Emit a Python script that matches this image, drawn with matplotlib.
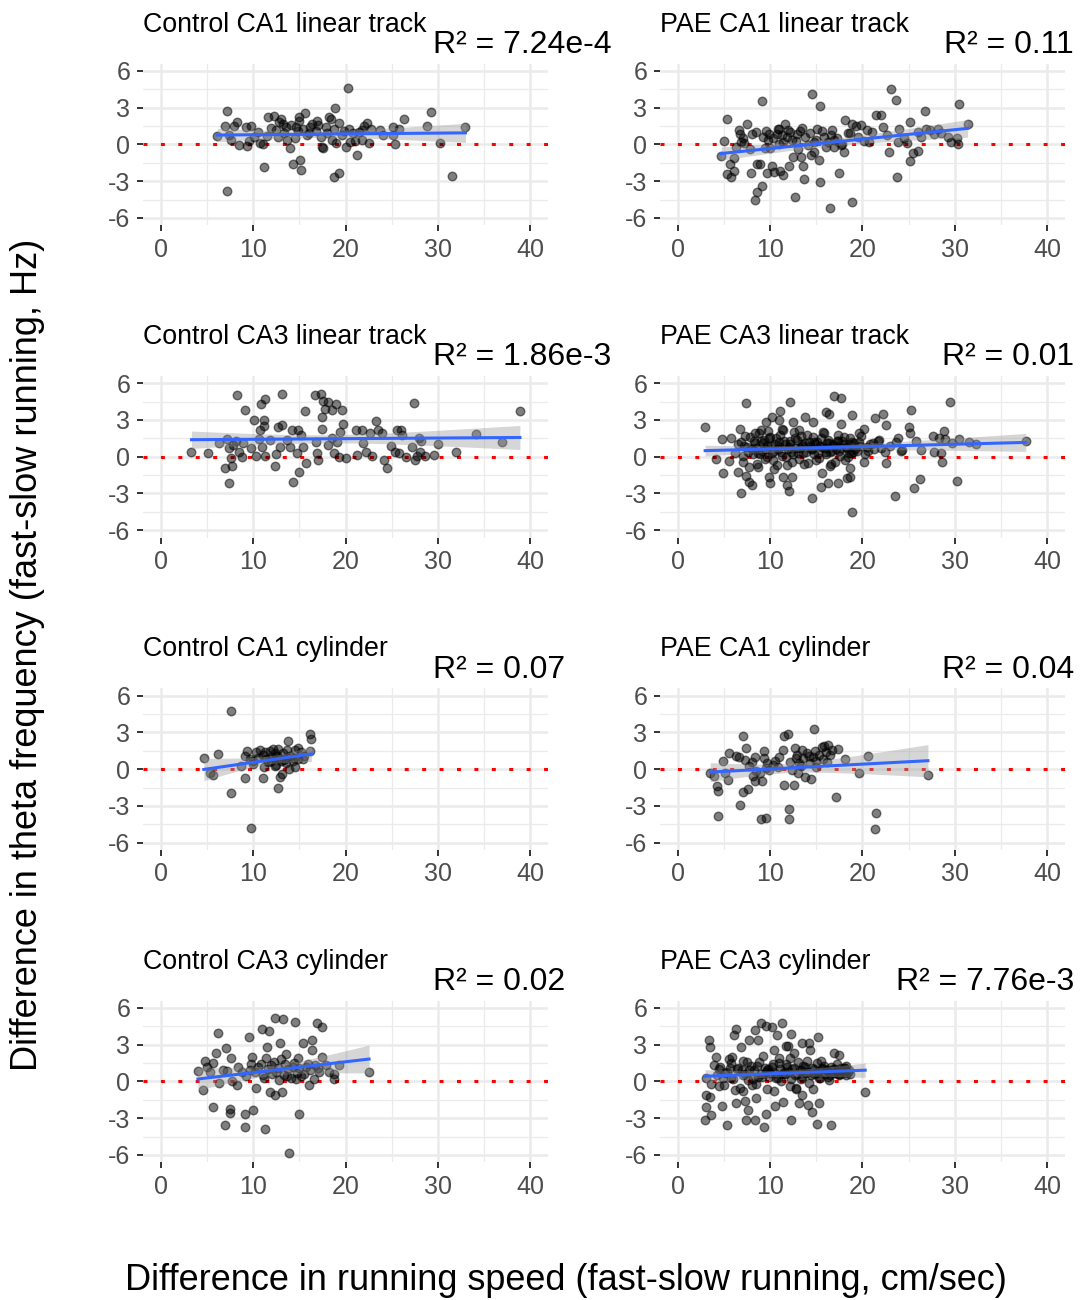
import numpy as np
import matplotlib
matplotlib.use("Agg")
import matplotlib.pyplot as plt

plt.rcParams['font.family'] = ['Liberation Sans', 'DejaVu Sans']
plt.rcParams['axes.unicode_minus'] = False

# panel titles and R^2 labels (left column, right column, row by row)
titles = ["Control CA1 linear track", "PAE CA1 linear track",
          "Control CA3 linear track", "PAE CA3 linear track",
          "Control CA1 cylinder", "PAE CA1 cylinder",
          "Control CA3 cylinder", "PAE CA3 cylinder"]
r2_labels = ["7.24e-4", "0.11", "1.86e-3", "0.01", "0.07", "0.04", "0.02", "7.76e-3"]

x_ticks = [0, 10, 20, 30, 40]
y_ticks = [-6, -3, 0, 3, 6]

# Control CA1 linear track
ctrl_ca1_lt_x = [6.1, 7.2, 7.2, 6.9, 7.4, 7.6, 7.9, 8.2, 8.5, 9.2, 9.3, 9.7, 10.1, 10.7, 11.0, 11.2,
                 11.6, 11.95, 12.2, 12.7, 13.0, 13.2, 13.5, 13.7, 14.0, 14.1, 14.3, 14.6, 14.9, 15.1,
                 15.2, 15.4, 15.6, 15.8, 16.1, 16.4, 16.9, 17.3, 17.4, 17.6, 17.9, 18.2, 18.4, 18.8,
                 18.85, 19.0, 19.3, 19.3, 19.6, 20.0, 20.25, 20.4, 20.5, 21.2, 21.5, 21.8, 22.0, 22.3,
                 22.5, 23.7, 24.1, 25.1, 25.1, 25.4, 25.8, 26.3, 28.8, 29.3, 30.2, 31.5, 33.0,
                 9.5, 10.5, 12.5, 13.3, 14.5, 15.0, 16.0, 16.8, 17.0, 18.0, 18.8, 19.8, 20.8, 21.8,
                 22.8, 11.5, 12.8, 14.8, 18.5, 21.0]
ctrl_ca1_lt_y = [0.68, 2.74, -3.79, 1.5, 0.75, 0.35, 1.5, 1.8, -0.05, 1.44, -0.1, 1.5, 0.6, 0.13, 0.0, -1.87,
                 2.2, 1.35, 2.3, 0.62, 2.06, 1.7, 1.44, 0.35, -0.27, 1.57, -1.63, 1.44, 2.2, -1.27,
                 -2.09, 1.3, 2.57, 0.76, 1.44, 1.7, 1.92, 0.62, -0.19, -0.27, 1.44, 2.2, 2.06, -2.68,
                 2.98, 0.13, -2.36, 1.76, 0.76, -0.24, 4.63, 1.3, 0.16, -0.87, 1.03, 0.4, 1.49, 1.76,
                 0.08, 1.22, 0.81, 1.44, 0.76, 0.03, 1.3, 2.06, 1.49, 2.66, 0.13, -2.55, 1.44,
                 0.3, 1.0, 1.2, 0.9, 0.5, 1.9, 0.9, 1.1, 1.6, 0.9, 1.3, 1.1, 0.9, 1.2,
                 1.3, 0.7, 1.8, 1.1, 0.4, 0.3]

# PAE CA1 linear track
pae_ca1_lt_x = [4.7, 5.0, 5.3, 5.3, 5.6, 5.7, 6.05, 6.1, 6.3, 6.6, 6.7, 6.85, 7.2, 7.45, 7.9, 8.0, 8.3,
                8.55, 8.55, 8.9, 9.1, 9.1, 9.2, 9.4, 9.7, 9.75, 9.9, 10.2, 10.45, 10.7, 11.0, 11.1,
                11.35, 11.4, 11.6, 11.9, 12.0, 12.4, 12.5, 12.7, 12.95, 13.3, 13.5, 13.6, 13.7, 14.05,
                14.4, 14.5, 14.8, 15.1, 15.3, 15.4, 15.4, 15.8, 16.1, 16.5, 16.75, 16.9, 17.5, 17.7,
                18.1, 18.4, 18.9, 18.9, 19.3, 19.8, 20.5, 20.7, 21.5, 22.0, 22.2, 22.7, 22.9, 23.1,
                23.6, 23.7, 23.8, 24.0, 24.8, 25.2, 25.2, 25.5, 26.05, 26.3, 26.8, 26.9, 27.75, 28.2,
                29.3, 29.55, 30.2, 30.4, 30.5, 31.4,
                8.5, 9.5, 10.3, 10.8, 11.3, 11.8, 12.2, 12.8, 13.2, 13.8, 14.3, 15.0, 15.6, 16.3,
                16.6, 17.2, 17.8, 18.6, 19.5, 20.2, 21.0, 7.0, 7.8, 10.0, 11.0, 13.0, 14.8, 16.9,
                18.0, 24.5, 26.0, 27.3, 28.5]
pae_ca1_lt_y = [-0.95, 0.3, 2.06, -2.41, -1.63, -2.63, -2.14, -1.14, -0.19, 1.22, 0.89, 0.22, 0.08, 1.7,
                -2.3, 0.89, -4.53, -3.9, -1.63, -1.63, -3.36, 3.52, 0.62, -0.33, -2.3, 0.35, 0.89, -1.76,
                -2.22, 0.89, 1.3, -2.14, 0.22, -2.49, 1.7, 1.22, -1.73, 0.35, -1.0, -4.25, 0.89, -1.0,
                1.36, -1.73, -2.85, -0.05, -0.87, 4.15, -0.6, 1.3, -1.27, -3.04, 3.14, 0.62, -0.19,
                -5.2, 1.17, 0.35, -2.36, -0.05, 2.03, 0.95, -4.66, 1.7, 1.49, 1.57, 1.22, 0.22, 2.38,
                2.44, 1.44, 0.76, -0.6, 4.55, 3.66, -2.63, 0.22, 1.3, 0.08, 1.84, -1.36, -0.73, -0.51,
                0.62, 2.71, 1.3, 0.89, 1.3, 0.62, 0.22, 0.54, 0.03, 3.28, 1.7,
                1.0, 1.1, 0.5, 1.3, 0.8, 0.6, 1.0, 0.3, 1.1, 0.6, 0.9, 0.4, 1.1, 0.2,
                0.8, 0.5, 0.0, 0.9, 0.6, 0.3, 1.0, 0.5, -0.4, -0.3, 0.0, -0.4, 0.2, -0.2,
                -0.6, 0.5, 1.0, 1.2, 0.9]

# Control CA3 linear track
ctrl_ca3_lt_x = [3.3, 5.1, 6.3, 6.9, 7.1, 7.4, 7.4, 7.6, 7.7, 7.8, 8.1, 8.2, 8.5, 8.8, 8.9, 9.05, 9.7,
                 10.1, 10.3, 10.6, 10.7, 10.85, 10.95, 11.15, 11.2, 11.3, 11.3, 11.8, 12.3, 12.5, 12.7,
                 12.85, 13.1, 13.1, 13.7, 14.0, 14.2, 14.3, 14.75, 14.8, 14.9, 15.2, 15.35, 15.6, 15.7,
                 16.7, 16.8, 16.9, 17.0, 17.3, 17.4, 17.4, 17.6, 17.8, 18.1, 18.1, 18.5, 18.5, 18.7,
                 19.0, 19.1, 19.3, 19.4, 19.6, 19.7, 20.0, 21.1, 21.2, 21.8, 21.9, 22.2, 22.7, 22.9,
                 23.3, 23.55, 23.9, 24.2, 24.5, 24.9, 25.4, 25.6, 25.8, 26.0, 26.15, 26.5, 27.2, 27.4,
                 27.5, 27.7, 27.95, 28.1, 28.2, 28.6, 29.6, 30.0, 32.0, 34.1, 37.0, 38.9]
ctrl_ca3_lt_y = [0.41, 0.27, 1.14, -0.95, 1.44, -2.17, 0.68, -0.08, -0.73, 0.95, 1.3, 5.07, 0.41, -0.05,
                 1.14, 3.85, 0.68, 2.98, 0.08, 1.41, 2.22, 4.34, 0.76, 3.04, 2.49, 4.69, 0.05, 1.36,
                 -0.73, 0.19, 2.44, 0.76, 5.15, 2.57, 1.36, 0.81, 2.17, -2.03, 0.27, 2.17, -1.27, 1.76,
                 0.81, 3.74, -0.49, 5.01, 1.22, 0.27, -0.27, 5.09, 3.25, 2.3, 4.55, 3.93, 4.5, 0.95,
                 3.85, 1.57, 0.33, 4.28, 1.22, 0.0, 2.03, 3.85, 2.66, -0.08, 2.17, 0.14, 2.17, 1.14,
                 0.41, 1.9, 0.05, 2.93, 2.17, 1.95, -0.27, -0.95, 0.87, 0.41, 2.17, 0.27, 2.17, 1.76,
                 0.0, 0.81, 4.39, -0.27, 0.05, 1.57, 0.41, 1.3, 0.05, 0.14, 1.03, 0.35, 1.82, 1.17, 3.74]

# PAE CA3 linear track
pae_ca3_lt_x = [2.95, 4.1, 4.8, 4.9, 5.5, 5.8, 6.5, 6.7, 6.85, 7.4, 7.4, 7.7, 8.0, 8.65, 9.0, 9.5, 9.9,
                10.0, 10.2, 10.4, 10.9, 11.1, 11.3, 11.4, 11.8, 12.0, 12.2, 12.4, 12.5, 13.15, 13.8,
                14.5, 14.6, 15.5, 15.6, 16.0, 16.3, 16.4, 16.5, 16.9, 17.4, 17.7, 17.7, 18.3, 18.6,
                18.6, 18.85, 18.9, 19.6, 20.2, 20.2, 21.4, 21.7, 22.2, 22.5, 22.5, 23.5, 23.8, 24.3,
                25.1, 25.2, 25.3, 25.6, 25.8, 26.2, 26.4, 27.6, 27.75, 28.3, 28.5, 28.6, 28.8, 29.0,
                29.5, 29.7, 30.2, 30.5, 31.6, 32.3, 37.7,
                6.2, 6.8, 7.1, 7.5, 7.8, 8.1, 8.3, 8.6, 8.8, 9.1, 9.3, 9.6, 9.8, 10.1, 10.3, 10.6,
                10.8, 11.1, 11.3, 11.6, 11.8, 12.1, 12.3, 12.6, 12.8, 13.1, 13.3, 13.6, 13.8, 14.1,
                14.3, 14.6, 14.8, 15.1, 15.3, 15.6, 15.8, 16.1, 16.3, 16.6, 16.8, 17.1, 17.3, 17.6,
                17.8, 18.1, 18.3, 18.6, 18.8, 19.1, 19.4, 19.8, 20.3, 20.8, 21.3, 21.8, 22.4, 23.0,
                23.6, 24.2,
                6.5, 7.0, 7.3, 7.7, 8.0, 8.4, 8.7, 9.0, 9.4, 9.7, 10.0, 10.4, 10.7, 11.0, 11.4, 11.7,
                12.0, 12.4, 12.7, 13.0, 13.4, 13.7, 14.0, 14.4, 14.7, 15.0, 15.4, 15.7, 16.0, 16.4,
                16.7, 17.0, 17.4, 17.7, 18.0, 18.4, 18.7, 19.0, 19.6, 20.5,
                7.2, 7.6, 8.2, 8.5, 8.9, 9.2, 9.5, 9.9, 10.2, 10.5, 10.9, 11.2, 11.5, 11.9, 12.2,
                12.5, 12.9, 13.2, 13.5, 13.9, 14.2, 14.5, 14.9, 15.2, 15.5, 15.9, 16.2, 16.5, 16.9,
                17.2, 17.5, 17.9, 18.2, 18.5, 18.9, 19.2, 19.7, 20.6, 21.1, 22.0]
pae_ca3_lt_y = [2.44, -0.22, 1.41, -1.36, -0.33, 1.57, -1.22, 2.3, -2.98, 4.39, -1.57, -2.03, -2.3,
                -0.87, 2.17, 2.85, -1.63, -2.11, 3.25, -1.03, 3.04, 3.74, 2.3, -1.63, -2.3, -2.76, 4.47,
                -1.63, 2.85, 2.17, 3.25, -3.39, 2.85, -2.44, -1.3, 3.66, -2.11, 3.52, -0.73, 4.93,
                -2.11, 4.8, 2.66, -1.76, -0.89, -1.68, -4.55, 3.44, 1.9, 2.3, -0.41, 3.2, 1.3, 3.47,
                -0.49, 2.57, -3.2, 1.57, 0.54, 2.44, 1.9, 3.85, -2.57, 1.3, -1.84, 0.54, 1.68, 0.41,
                1.49, 0.27, -0.41, 2.09, 1.41, 4.47, 1.14, -1.95, 1.41, 1.22, 1.03, 1.3,
                0.3, 1.2, -0.4, 0.8, 1.6, 0.2, 1.1, -0.6, 1.9, 0.5, 1.4, 0.0, 2.1, 0.9, -0.3, 1.5,
                0.6, 1.8, 0.1, 1.0, -0.7, 1.3, 0.4, 2.0, 0.7, -0.2, 1.7, 0.3, 1.1, -0.5,
                0.9, 1.6, 0.2, 1.2, -0.1, 0.8, 1.9, 0.4, 1.4, -0.6, 1.0, 0.6, 1.8, 0.1,
                1.3, -0.3, 0.7, 1.5, 0.3, 1.1, 0.5, 1.7, 0.2, 1.0, 0.6, 1.4, 0.4, 0.9,
                1.2, 0.5,
                1.0, 0.1, 1.7, -0.8, 0.6, 1.9, 0.3, 1.3, -0.2, 0.9, 1.6, 0.5, -0.7, 1.2, 2.2, 0.0,
                0.8, -0.4, 1.5, 0.3, 1.0, -0.6, 1.8, 0.6, 1.2, -0.3, 0.9, 2.0, 0.2, 1.1,
                0.5, -0.4, 1.3, 0.7, 1.6, 0.0, 1.0, 0.4, 1.2, 0.8,
                0.9, 0.4, 1.3, 0.7, 0.2, 1.1, 0.6, 1.5, 0.3, 1.0, 0.8, 0.4, 1.3, 0.6, 1.0,
                0.2, 1.4, 0.7, 0.9, 0.4, 1.2, 0.6, 1.0, 0.3, 1.5, 0.7, 1.1, 0.4, 0.9,
                1.3, 0.5, 1.0, 0.8, 0.3, 1.2, 0.6, 0.9, 0.5, 1.1, 0.7]

# Control CA1 cylinder
ctrl_ca1_cy_x = [4.64, 5.3, 5.65, 6.2, 7.55, 7.55, 8.7, 9.1, 9.1, 9.3, 9.8, 9.95, 10.3, 10.7, 11.0,
                 11.2, 11.4, 11.8, 11.9, 12.1, 12.4, 12.5, 12.7, 12.7, 12.9, 13.1, 13.3, 13.6, 13.7,
                 13.8, 13.9, 14.3, 14.5, 14.5, 14.8, 15.2, 15.4, 16.1, 16.1, 16.3,
                 10.5, 11.0, 11.6, 12.0, 12.3, 12.8, 13.2, 13.5, 14.0, 14.4, 9.6, 10.0, 11.3, 12.6,
                 13.0, 14.8, 15.5]
ctrl_ca1_cy_y = [0.95, -0.3, -0.43, 1.25, 4.72, -1.92, 0.3, 1.06, -0.73, 1.46, -4.77, 0.65, 1.38, 1.6,
                 -0.73, 0.16, 0.84, 1.46, 0.65, 1.68, 1.33, 0.38, -1.57, 1.65, -0.65, -0.35, 0.79, 1.0,
                 1.54, 2.28, 0.03, 0.65, 1.6, 0.19, 1.73, 1.38, 0.84, 1.52, 2.9, 2.47,
                 0.9, 1.2, 0.6, 1.0, 0.3, 0.9, 1.3, 0.5, 1.1, 0.9, 0.8, 0.4, 1.4, 1.1,
                 0.7, 0.8, 1.1]

# PAE CA1 cylinder
pae_ca1_cy_x = [3.5, 3.96, 4.2, 4.3, 4.3, 4.9, 5.15, 5.4, 5.5, 6.3, 6.6, 6.7, 7.0, 7.1, 7.3, 7.4, 7.6,
                7.75, 8.1, 8.3, 8.4, 8.5, 8.9, 9.0, 9.1, 9.3, 9.3, 9.55, 9.7, 9.9, 10.3, 10.55, 11.35,
                11.5, 11.5, 11.9, 12.0, 12.0, 12.4, 12.6, 12.7, 12.8, 13.15, 13.5, 13.8, 14.2, 14.4,
                14.7, 14.95, 15.6, 15.8, 16.3, 16.5, 16.75, 17.1, 17.4, 18.1, 19.6, 20.65, 21.5, 21.4,
                27.1,
                12.2, 12.9, 13.3, 13.6, 14.0, 14.3, 14.6, 15.0, 15.3, 15.7, 16.0, 16.2, 13.0, 14.9,
                10.8, 11.0, 8.0, 9.5]
pae_ca1_cy_y = [-0.3, -0.57, -1.38, -1.79, -3.82, 0.65, -0.3, -0.84, 1.33, 1.11, 1.0, -2.93, 2.74,
                -1.87, 0.79, 1.73, -1.65, 0.24, -0.57, -0.98, 1.0, -0.16, -0.3, -4.04, -0.98, 1.46,
                0.92, -3.96, 0.51, -0.08, 0.38, 0.7, 1.6, 2.68, -1.3, 2.87, -3.28, -4.04, -0.03, -1.3,
                1.73, 0.92, 0.51, 1.54, -0.62, 1.06, -0.79, 3.28, 0.65, 1.82, 1.87, 2.0, 1.19, 1.6,
                -2.28, 1.68, 0.84, -0.3, 1.11, -3.55, -4.85, -0.43,
                0.6, 1.2, 0.3, 0.9, 1.3, 0.5, 1.0, 0.2, 1.2, 0.8, 1.4, 0.6, -0.3, 1.5,
                0.2, 1.0, 0.6, 0.1]

# Control CA3 cylinder
ctrl_ca3_cy_x = [4.0, 4.5, 4.75, 5.0, 5.3, 5.6, 5.6, 6.0, 6.2, 6.3, 6.7, 6.9, 7.0, 7.2, 7.45, 7.5, 7.6,
                 7.7, 8.2, 8.35, 9.1, 9.1, 9.2, 9.5, 9.6, 9.9, 10.0, 10.25, 10.5, 10.9, 11.0, 11.3,
                 11.5, 11.7, 11.76, 11.9, 12.3, 12.4, 12.5, 12.9, 13.0, 13.1, 13.2, 13.6, 13.9, 14.3,
                 14.5, 14.8, 14.9, 15.2, 15.4, 15.7, 16.0, 16.4, 16.4, 16.7, 16.9, 17.1, 17.4, 17.5,
                 17.9, 18.2, 18.7, 18.8, 19.3, 22.55,
                 10.2, 10.8, 11.2, 11.6, 12.0, 12.2, 12.7, 13.3, 13.5, 13.8, 14.1, 14.4, 14.7, 15.0,
                 15.5, 15.9, 16.2, 16.6, 17.0, 9.8, 8.8, 11.4, 12.8, 13.4, 14.6]
ctrl_ca3_cy_y = [0.89, -0.73, 1.7, 1.22, 0.81, -2.11, 1.49, 2.3, 3.93, -0.14, 0.95, -3.52, 2.71, 0.89,
                 -2.57, -2.25, 1.9, 0.0, -0.27, 1.22, -2.63, -3.71, 0.41, 3.66, 0.95, 1.98, -2.36,
                 -0.54, 1.17, 4.25, 0.54, -3.88, 2.79, 4.15, -0.89, 1.36, -1.08, 5.15, 0.81, 3.12, 1.82,
                 -0.87, 5.07, 0.41, -5.83, 1.22, 4.88, 1.9, -2.66, 0.41, 3.12, 1.22, -0.27, 3.39, 2.57,
                 1.36, 4.8, 0.81, 4.42, 2.03, 1.36, 0.81, 0.19, 0.6, 1.36, 0.81,
                 0.8, 1.4, 0.3, 1.0, 0.6, 1.6, 1.1, 0.5, 2.2, 1.0, 0.3, 1.5, 0.7, 1.1,
                 0.6, 1.4, 0.9, 0.2, 1.1, 1.4, 0.8, 1.9, 0.1, 1.4, 0.2]

# PAE CA3 cylinder
pae_ca3_cy_x = [2.95, 3.06, 3.06, 3.06, 3.4, 3.5, 3.6, 3.5, 3.6, 3.96, 4.1, 4.5, 4.8, 5.3, 5.6, 5.9,
                6.05, 6.3, 6.3, 6.85, 7.0, 7.3, 7.4, 7.55, 7.7, 8.3, 8.4, 8.5, 8.7, 9.0, 9.3, 9.5, 9.55,
                9.7, 10.2, 10.45, 10.55, 10.7, 11.3, 11.4, 11.7, 11.9, 12.25, 12.3, 12.6, 12.8, 13.15,
                13.5, 13.5, 14.05, 14.2, 14.3, 14.5, 15.1, 15.2, 15.3, 15.5, 16.6, 16.95, 17.5, 18.0,
                18.2, 20.3,
                4.2, 4.6, 5.0, 5.3, 5.7, 6.0, 6.4, 6.7, 7.0, 7.3, 7.6, 7.9, 8.2, 8.5, 8.8, 9.1, 9.4,
                9.7, 10.0, 10.3, 10.6, 10.9, 11.2, 11.5, 11.8, 12.1, 12.4, 12.7, 13.0, 13.3, 13.6,
                13.9, 14.2, 14.5, 14.8, 15.1, 15.4, 15.7, 16.0, 16.3, 16.6, 16.9, 17.2, 17.5, 17.8,
                18.1, 18.4, 18.7,
                4.4, 4.9, 5.5, 6.2, 6.9, 7.5, 8.0, 8.7, 9.2, 9.8, 10.4, 11.0, 11.6, 12.2, 12.8, 13.4,
                14.0, 14.6, 15.2, 15.8, 16.4, 17.0, 17.6, 18.2,
                5.1, 5.8, 6.5, 7.1, 7.7, 8.1, 8.6, 9.0, 9.5, 9.9, 10.2, 10.5, 10.8, 11.1, 11.4,
                11.7, 12.0, 12.3, 12.6, 12.9, 13.2, 13.5, 13.8, 14.1, 14.4, 14.7, 15.0, 15.3, 15.6,
                15.9, 16.2, 16.5, 16.8, 17.1, 17.4, 17.7, 18.0, 18.5]
pae_ca3_cy_y = [-3.12, -2.09, -1.14, 0.27, 3.39, 2.85, -2.71, -1.27, -0.19, 1.36, 1.98, -0.41, -1.98,
                -3.55, 1.08, 1.98, 3.79, 4.25, -1.76, 2.85, -0.81, -1.63, -3.12, -2.3, 3.39, -3.12, 4.2,
                -1.36, 3.39, 4.8, -3.71, -2.63, 4.53, 0.95, 4.47, 2.57, -2.03, 3.79, 4.8, -1.71, 2.9,
                2.9, 3.88, -3.12, 2.3, -0.62, -1.76, 3.17, -1.08, -1.9, 3.17, 2.57, -2.52, -3.47, 3.6,
                -1.76, 1.63, -3.58, 2.36, 2.17, 1.08, 0.54, -0.87,
                0.5, 1.2, -0.3, 0.8, 1.5, 0.2, 1.0, -0.5, 1.7, 0.6, 0.1, 1.3, 0.9, -0.2, 1.6, 0.4, 1.1,
                -0.6, 0.7, 1.4, 0.3, 1.9, 0.0, 0.8, 1.2, -0.4, 1.0, 0.5, 1.6, 0.2, 1.3,
                0.7, -0.1, 1.1, 0.6, 1.5, 0.3, 1.0, 0.9, 0.4, 1.2, 0.7, 1.4, 0.5, 0.9,
                1.1, 0.8, 0.6,
                1.0, 0.3, 1.8, -0.7, 0.9, 1.6, -0.3, 0.4, 2.1, 1.0, -0.8, 1.5, 0.6, 1.9, -0.5, 0.9,
                1.7, -0.6, 0.8, 1.3, 0.1, 1.0, 0.6, 1.3,
                0.7, 0.3, 1.1, 0.5, 0.9, 0.2, 1.3, 0.6, 0.8, 0.4, 1.2, 0.7, 0.3, 1.0, 0.6,
                1.4, 0.8, 0.2, 1.1, 0.6, 0.9, 0.4, 1.2, 0.8, 0.5, 1.0, 0.7, 0.3, 1.1,
                0.6, 0.9, 0.5, 1.0, 0.8, 0.6, 1.1, 0.7, 0.9]

panels = [(ctrl_ca1_lt_x, ctrl_ca1_lt_y), (pae_ca1_lt_x, pae_ca1_lt_y),
          (ctrl_ca3_lt_x, ctrl_ca3_lt_y), (pae_ca3_lt_x, pae_ca3_lt_y),
          (ctrl_ca1_cy_x, ctrl_ca1_cy_y), (pae_ca1_cy_x, pae_ca1_cy_y),
          (ctrl_ca3_cy_x, ctrl_ca3_cy_y), (pae_ca3_cy_x, pae_ca3_cy_y)]


def lm_band(x, y):
    # linear fit with 95% confidence band, like geom_smooth(method = "lm")
    x = np.asarray(x)
    y = np.asarray(y)
    n = len(x)
    b, a = np.polyfit(x, y, 1)
    xs = np.linspace(x.min(), x.max(), 80)
    fit = a + b * xs
    resid = y - (a + b * x)
    s = np.sqrt(np.sum(resid ** 2) / (n - 2))
    sxx = np.sum((x - x.mean()) ** 2)
    se = s * np.sqrt(1.0 / n + (xs - x.mean()) ** 2 / sxx)
    return xs, fit, fit - 1.97 * se, fit + 1.97 * se


W, H = 1080, 1300
fig = plt.figure(figsize=(W / 100, H / 100), dpi=100)

col_left = [142.6, 659.5]
row_top = [63.6, 375.9, 688.4, 1000.6]
pw, ph = 405.9, 161.7

for i, (px, py) in enumerate(panels):
    r, c = divmod(i, 2)
    left = col_left[c]
    top = row_top[r]
    ax = fig.add_axes([left / W, 1 - (top + ph) / H, pw / W, ph / H])
    ax.set_xlim(-2, 42)
    ax.set_ylim(-6.6, 6.6)
    for s in ax.spines.values():
        s.set_visible(False)
    ax.set_xticks(x_ticks)
    ax.set_yticks(y_ticks)
    ax.set_xticks([5, 15, 25, 35], minor=True)
    ax.set_yticks([-4.5, -1.5, 1.5, 4.5], minor=True)
    ax.grid(which='major', color='#EBEBEB', lw=1.8, zorder=0)
    ax.grid(which='minor', color='#EBEBEB', lw=0.9, zorder=0)
    ax.tick_params(which='major', length=4.3, width=1.4, color='#333333',
                   labelsize=18, labelcolor='#4D4D4D', pad=4.5)
    ax.tick_params(which='minor', length=0)
    ax.set_axisbelow(True)

    ax.axhline(0, color='red', lw=2.2, linestyle=(0, (1.3, 4.4)), dash_capstyle='butt', zorder=1)
    ax.scatter(px, py, s=38, facecolor=(0, 0, 0, 0.5), edgecolor=(0, 0, 0, 0.5),
               linewidths=1.0, zorder=2)
    xs, fit, lo, hi = lm_band(px, py)
    ax.fill_between(xs, lo, hi, color='#999999', alpha=0.4, lw=0, zorder=3)
    ax.plot(xs, fit, color='#3366FF', lw=2.2, zorder=4)

    # panel title and R^2 label
    fig.text(left / W, 1 - (top - 32) / H, titles[i], fontsize=19.3, ha='left',
             va='baseline', color='black')
    r2 = "R² = " + r2_labels[i]
    if c == 0:
        fig.text(433 / W, 1 - (top - 10.5) / H, r2, fontsize=23, ha='left', va='baseline')
    else:
        fig.text(1074 / W, 1 - (top - 10.5) / H, r2, fontsize=23, ha='right', va='baseline')

fig.text(28 / W, 1 - 655 / H, "Difference in theta frequency (fast-slow running, Hz)",
         rotation=90, fontsize=26, ha='center', va='center')
fig.text(566 / W, 1 - 1280 / H, "Difference in running speed (fast-slow running, cm/sec)",
         fontsize=26, ha='center', va='center')

fig.savefig("out.png", dpi=100, facecolor='white')
